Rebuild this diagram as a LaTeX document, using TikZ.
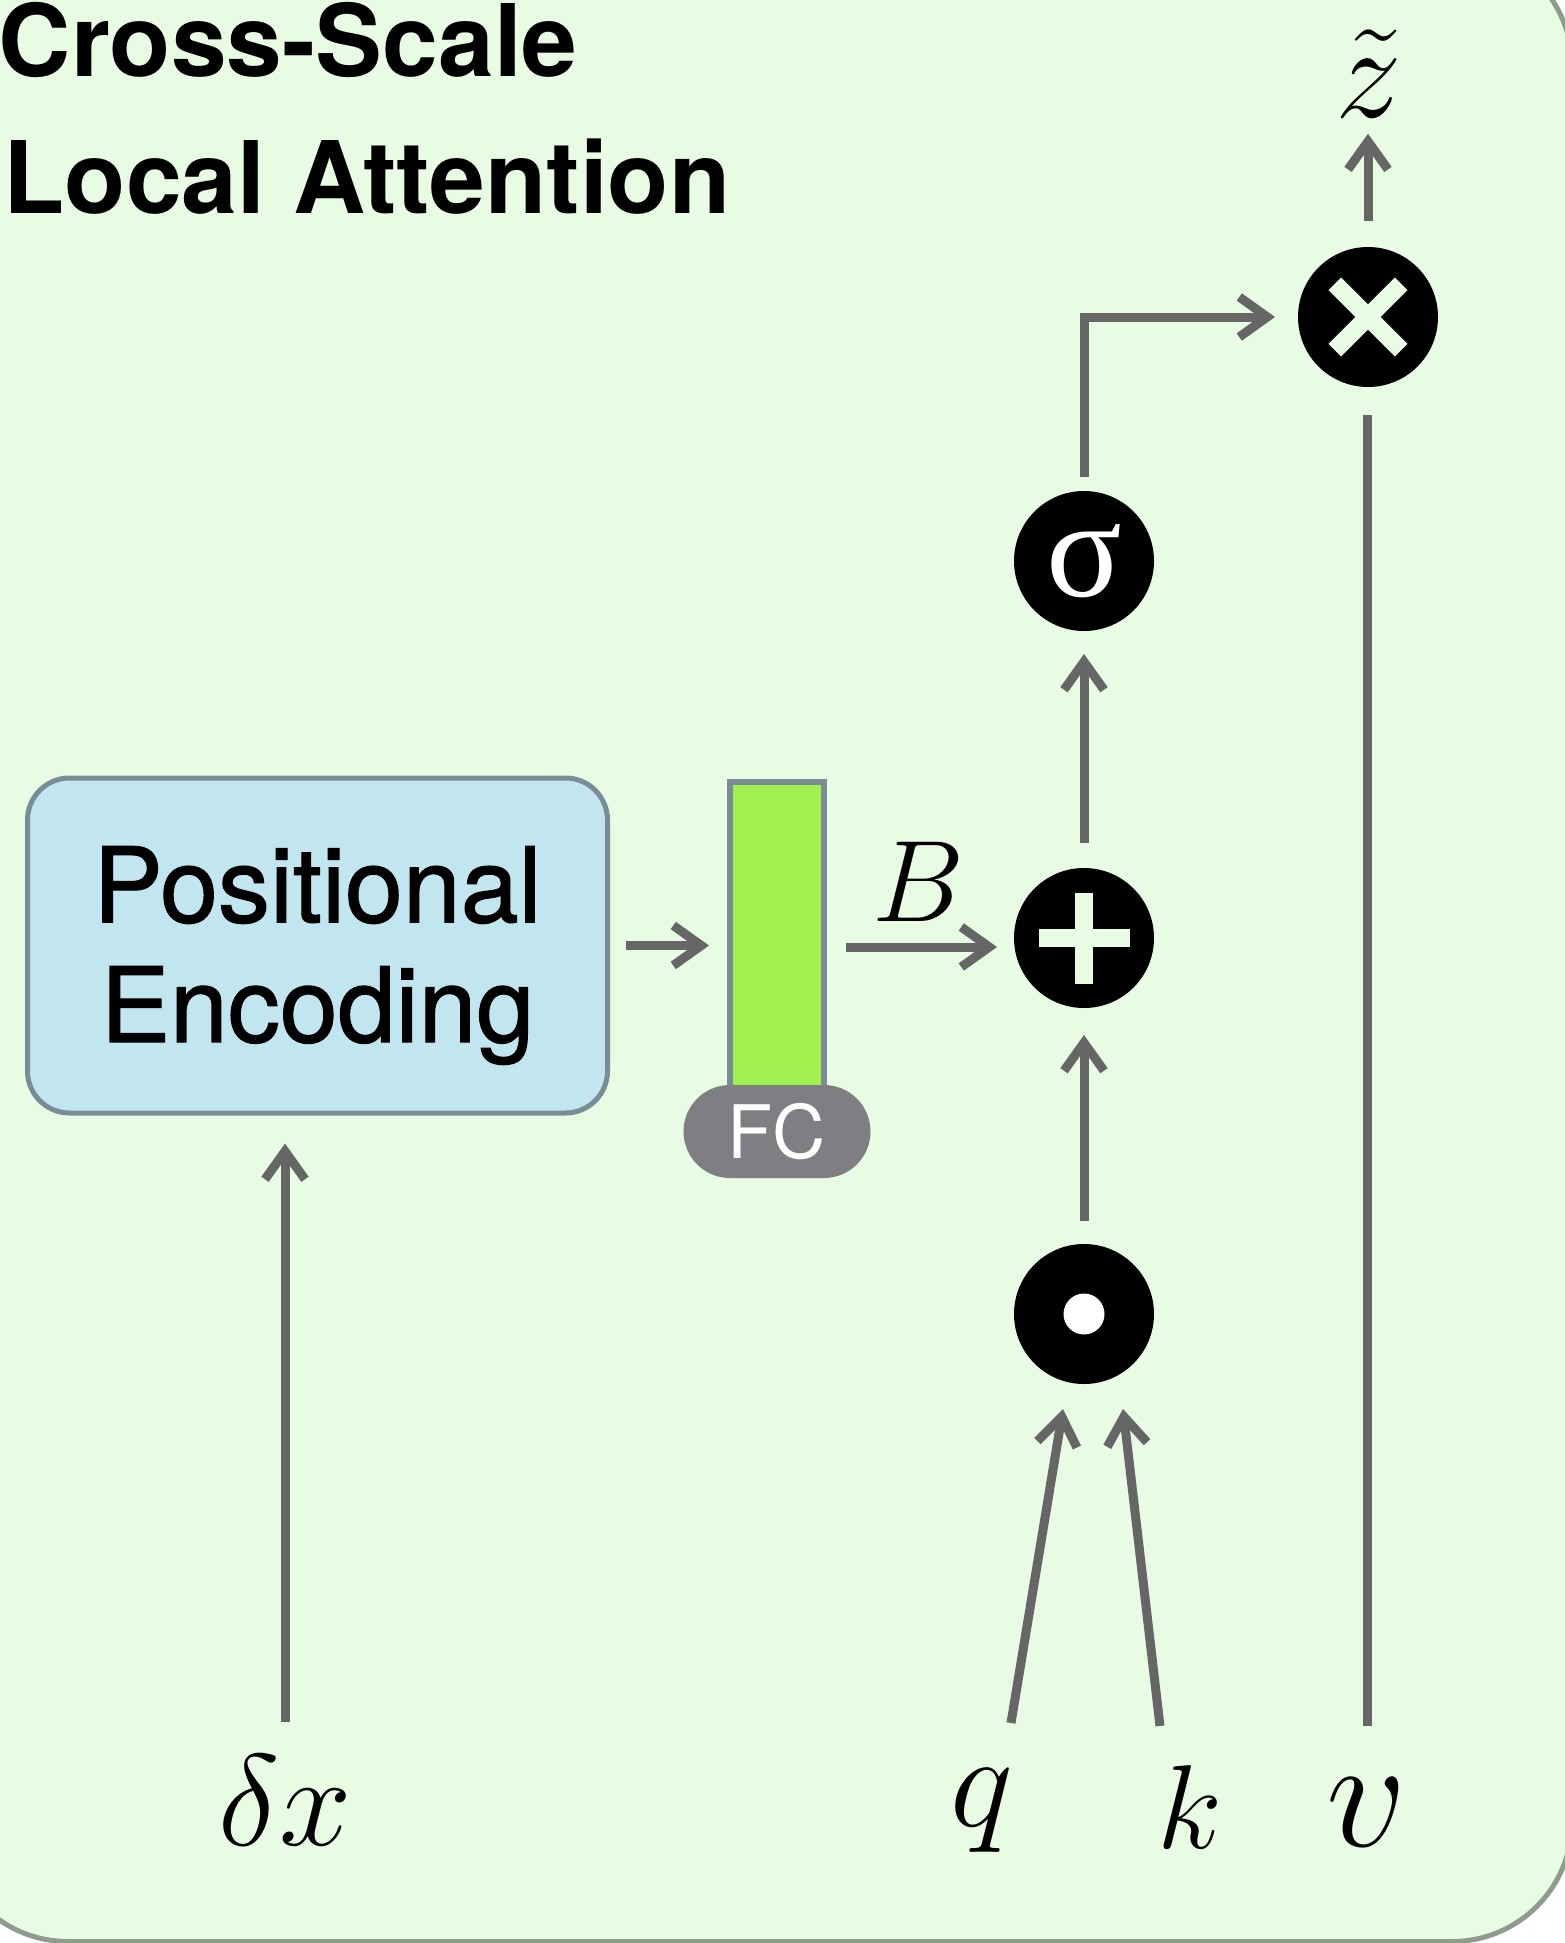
\RequirePackage{fix-cm}
\documentclass[tikz,border=0pt]{standalone}
\usepackage{fontspec}
\newfontfamily\heros{TeX Gyre Heros}
\newfontfamily\herosmed{TeX Gyre Heros}[FakeBold=1.2]
\newfontfamily\sigmafont{Liberation Serif}
\usetikzlibrary{arrows.meta,calc}

\definecolor{bgfill}{HTML}{E8FCE4}
\definecolor{bgline}{HTML}{8E9C8B}
\definecolor{pefill}{HTML}{C2E6F0}
\definecolor{peline}{HTML}{7A8C96}
\definecolor{fcgreen}{HTML}{A0F050}
\definecolor{pillgray}{HTML}{7F7E83}
\definecolor{arrgray}{HTML}{666666}

\tikzset{
  conn/.style={draw=arrgray, line width=0.09cm},
  arr/.style={conn, -{Straight Barb[length=0.28cm,width=0.40cm]}},
  opc/.style={circle, fill=black, minimum size=1.4cm, inner sep=0pt, outer sep=0pt},
  mlbl/.style={anchor=base, inner sep=0pt},
  titletext/.style={anchor=base west, inner sep=0pt, font=\heros\bfseries\fontsize{28.5}{28.5}\selectfont},
  pebox/.style={rectangle, rounded corners=0.42cm, draw=peline, fill=pefill, line width=0.05cm,
    minimum width=5.80cm, minimum height=3.35cm, inner sep=0pt},
  petext/.style={inner sep=0pt, align=center, font=\herosmed\fontsize{29.6}{34.1}\selectfont},
  fcbar/.style={rectangle, draw=peline, fill=fcgreen, line width=0.06cm,
    minimum width=0.94cm, minimum height=3.3cm, inner sep=0pt},
  fcpill/.style={rectangle, rounded corners=0.465cm, fill=pillgray, text=white,
    minimum width=1.87cm, minimum height=0.93cm, inner sep=0pt,
    font=\heros\fontsize{21}{21}\selectfont}
}

\begin{document}
\begin{tikzpicture}
\useasboundingbox (0,0) rectangle (15.64,-19.43);

% panel background
\draw[draw=bgline, fill=bgfill, line width=0.05cm, rounded corners=1.2cm]
  (-0.52,0.54) rectangle (15.72,-19.415);

% title
\node[titletext] (t1) at (-0.02,-0.77) {Cross-Scale};
\node[titletext] (t2) at (0.03,-2.13) {Local Attention};

% positional encoding and FC layer
\node[pebox] (pe) at (3.175,-9.455) {};
\node[petext] (pelabel) at ([yshift=-0.1cm]pe.center) {Positional\\Encoding};
\node[fcbar, anchor=north] (fc) at (7.77,-7.79) {};
\node[fcpill] (fclab) at (7.77,-11.315) {FC};

% operator circles
\node[opc, text=white, font=\sigmafont\fontsize{40}{40}\selectfont] (sig) at (10.84,-5.61) {σ};
\node[opc] (plus) at (10.84,-9.38) {};
\node[opc] (dotc) at (10.84,-13.14) {};
\node[opc] (times) at (13.68,-3.17) {};

% operator symbols
\fill[bgfill] ($(plus)+(-0.455,-0.09)$) rectangle ($(plus)+(0.455,0.09)$);
\fill[bgfill] ($(plus)+(-0.09,-0.455)$) rectangle ($(plus)+(0.09,0.455)$);
\begin{scope}[shift={(times.center)}, rotate=45]
  \fill[bgfill] (-0.47,-0.09) rectangle (0.47,0.09);
  \fill[bgfill] (-0.09,-0.47) rectangle (0.09,0.47);
\end{scope}
\fill[white] (dotc) circle (0.205);

% math labels
\node[mlbl, font=\fontsize{37}{37}\selectfont] (dx) at (2.85,-18.45) {$\delta x$};
\node[mlbl, font=\fontsize{38}{38}\selectfont] (q) at (9.82,-18.26) {$q$};
\node[mlbl, font=\fontsize{34}{34}\selectfont] (k) at (11.90,-18.48) {$k$};
\node[mlbl, font=\fontsize{45}{45}\selectfont] (v) at (13.67,-18.46) {$v$};
\node[mlbl, font=\fontsize{38}{38}\selectfont] (zt) at (13.69,-1.18) {$\tilde z$};
\node[mlbl, font=\fontsize{33}{33}\selectfont] (B) at (9.19,-9.21) {$B$};

% connector feet
\coordinate (qfoot) at (10.11,-17.23);
\coordinate (kfoot) at (11.60,-17.26);

% connectors
\draw[arr, shorten <=0.32cm, shorten >=0.28cm] (dx.north) -- (dx.north |- pe.south);
\draw[arr, shorten <=0.16cm, shorten >=0.18cm] (pe.east) -- (pe.east -| fc.west);
\draw[arr, shorten <=0.19cm, shorten >=0.17cm]
  ($(plus.west -| fc.east)+(0,-0.09)$) -- ($(plus.west)+(0,-0.09)$);
\draw[arr] (qfoot) -- ($(dotc)+(-0.21,-0.95)$);
\draw[arr] (kfoot) -- ($(dotc)+(0.39,-0.95)$);
\draw[arr, shorten <=0.23cm, shorten >=0.27cm] (dotc.north) -- (plus.south);
\draw[arr, shorten <=0.25cm, shorten >=0.23cm] (plus.north) -- (sig.south);
\draw[arr, shorten <=0.14cm, shorten >=0.23cm] (sig.north) |- (times.west);
\draw[conn, shorten <=0.51cm, shorten >=0.28cm] (v.north) -- (v.north |- times.south);
\draw[arr, shorten <=0.26cm, shorten >=0.15cm] (times.north) -- (times.north |- zt.south);
\end{tikzpicture}
\end{document}
